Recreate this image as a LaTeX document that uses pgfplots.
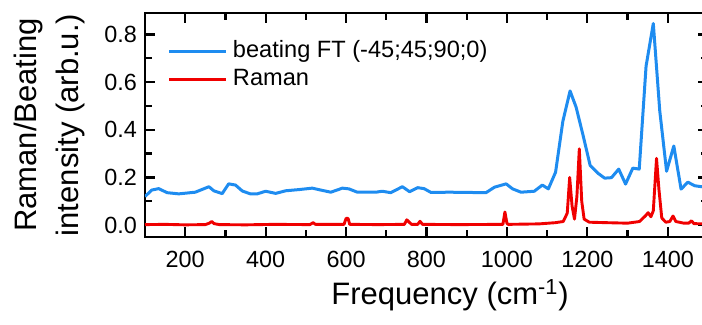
\documentclass[border=0pt]{standalone}
\usepackage{pgfplots}
\pgfplotsset{compat=1.18}
\usepackage{fontspec}
\setmainfont{Liberation Sans}
\definecolor{bblue}{RGB}{30,140,240}
\definecolor{rred}{RGB}{240,0,0}
\begin{document}
\begin{tikzpicture}
\useasboundingbox (-72.5pt,-44pt) rectangle (278.5pt,118.5pt);
\begin{axis}[
  at={(0,0)}, anchor=south west,
  scale only axis,
  width=281.5pt, height=112pt,
  xmin=100, xmax=1500,
  ymin=-0.05, ymax=0.89,
  xtick={200,400,...,1400},
  minor xtick={100,300,...,1500},
  ytick={0,0.2,...,0.8},
  minor ytick={0.1,0.3,...,0.7},
  tick align=inside,
  xtick pos=both, ytick pos=both,
  major tick length=5pt, minor tick length=3.5pt,
  every tick/.style={black, line width=1.1pt},
  axis line style={line width=1.3pt},
  /pgf/number format/assume math mode=true,
  /pgf/number format/set thousands separator={},
  yticklabel style={/pgf/number format/fixed, /pgf/number format/fixed zerofill, /pgf/number format/precision=1},
  ticklabel style={font=\fontsize{11.7}{14}\selectfont},
  xticklabel style={anchor=base, yshift=-15.5pt},
  yticklabel style={anchor=east, xshift=-0.5pt},
  xlabel={Frequency (cm\textsuperscript{-1})},
  xlabel style={font=\fontsize{15.5}{18}\selectfont, at={(axis description cs:0.542,-0.3036)}, anchor=base},
  ylabel={Raman/Beating\\intensity (arb.u.)},
  ylabel style={font=\fontsize{15.5}{20.75}\selectfont, align=center, inner sep=0pt, at={(axis description cs:-0.1066,0.5)}, anchor=south},
  legend style={at={(axis description cs:0,1)}, anchor=north west, xshift=11.5pt, yshift=-13.8pt, draw=none, fill=none, inner sep=0pt, outer sep=0pt, column sep=2.5pt, row sep=3.15pt, font=\fontsize{11.8}{14}\selectfont, nodes={inner sep=0pt, text height=8.5pt, text depth=2.5pt}},
  legend cell align=left,
  legend image code/.code={\draw[#1] (0pt,0pt) -- (28.5pt,0pt);},
  clip=true,
]
\addplot[bblue, line width=1.5pt, line join=round] coordinates {
(100,0.12) (117,0.147) (134,0.153) (155,0.136) (184,0.131) (225,0.138) (259,0.161) (271,0.144) (292,0.132) (308,0.173) (325,0.168) (342,0.143) (362,0.131) (379,0.131) (400,0.142) (425,0.133) (450,0.144) (483,0.149) (516,0.155) (537,0.147) (562,0.138) (591,0.155) (607,0.152) (628,0.138) (674,0.138) (690,0.142) (711,0.136) (740,0.161) (758,0.140) (778,0.157) (794,0.153) (811,0.137) (857,0.138) (948,0.136) (969,0.159) (998,0.173) (1014,0.152) (1035,0.138) (1068,0.142) (1088,0.168) (1103,0.152) (1121,0.222) (1139,0.435) (1157,0.563) (1172,0.495) (1189,0.379) (1207,0.250) (1226,0.218) (1243,0.197) (1260,0.199) (1278,0.235) (1295,0.172) (1313,0.239) (1329,0.235) (1346,0.667) (1364,0.846) (1380,0.48) (1397,0.226) (1415,0.332) (1433,0.151) (1450,0.180) (1467,0.165) (1484,0.161) (1500,0.158)
};
\addlegendentry{beating FT (-45;45;90;0)}
\addplot[rred, line width=1.45pt, line join=round] coordinates {
(100,0.002) (150,0.003) (200,0.001) (250,0.002) (260,0.008) (266,0.015) (272,0.006) (285,0.002) (350,0.001) (420,0.003) (510,0.002) (518,0.010) (524,0.003) (595,0.003) (600,0.028) (605,0.028) (609,0.003) (680,0.002) (745,0.003) (751,0.022) (757,0.012) (763,0.003) (778,0.003) (784,0.016) (790,0.003) (880,0.002) (990,0.003) (995,0.055) (1000,0.008) (1003,0.003) (1080,0.005) (1120,0.010) (1140,0.015) (1150,0.05) (1156,0.20) (1162,0.08) (1168,0.025) (1174,0.12) (1180,0.32) (1186,0.10) (1192,0.025) (1205,0.012) (1250,0.010) (1300,0.008) (1330,0.015) (1345,0.04) (1351,0.052) (1358,0.035) (1364,0.06) (1372,0.28) (1378,0.15) (1385,0.03) (1395,0.012) (1405,0.015) (1413,0.038) (1420,0.015) (1440,0.008) (1452,0.008) (1459,0.018) (1465,0.006) (1500,0.005)
};
\addlegendentry{Raman}
\end{axis}
\end{tikzpicture}
\end{document}
